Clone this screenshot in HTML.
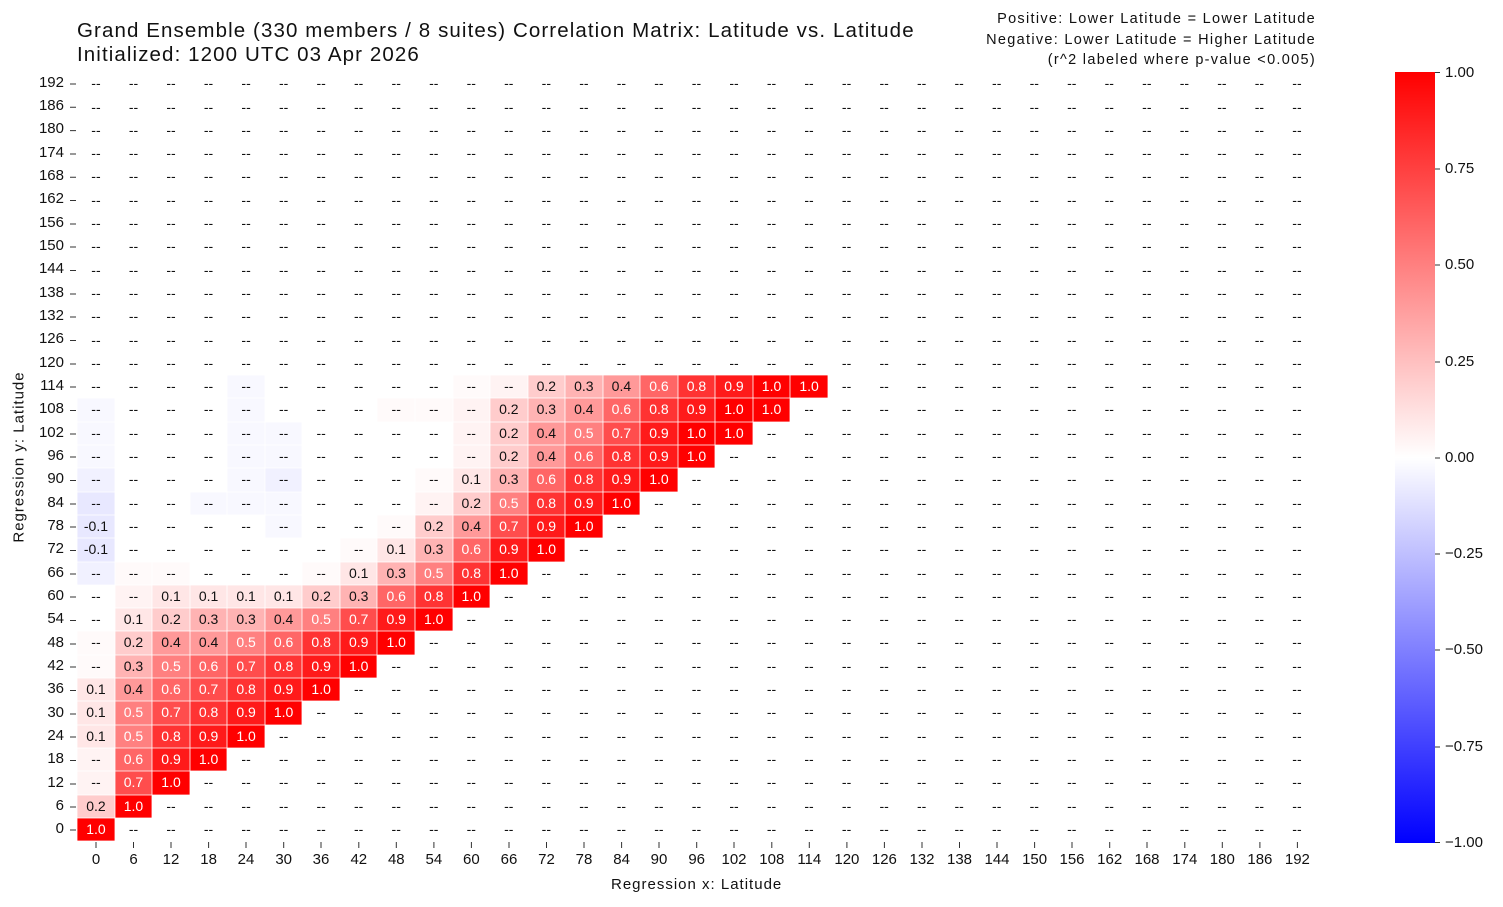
<!DOCTYPE html>
<html><head><meta charset="utf-8"><style>
body{margin:0;width:1503px;height:907px;background:#fff;font-family:"Liberation Sans",sans-serif;position:relative;overflow:hidden;color:#111}
.t{position:absolute;white-space:nowrap}
#g{position:absolute;left:77.2px;top:72.3px;width:1239px}
#g div{height:23.31px;white-space:nowrap;font-size:14px;line-height:23.31px}
#g i{font-style:normal;display:inline-block;width:37.545px;height:23.31px;text-align:center;vertical-align:top;box-shadow:inset 0 0 0 0.4px #fff}
.a1{background:#ffe6e6}.a2{background:#ffcccc}.a3{background:#ffb3b3}.a4{background:#ff9999}
.a5{background:#ff8080;color:#fff}.a6{background:#ff6666;color:#fff}.a7{background:#ff4d4d;color:#fff}.a8{background:#ff3333;color:#fff}.a9{background:#ff1a1a;color:#fff}.a10{background:#ff0000;color:#fff}
.p{background:#fff3f3}.q{background:#fffafa}.b{background:#f8f8ff}.bb{background:#f1f1ff}.n{background:#e8e8ff}
.yl{position:absolute;right:1439px;font-size:15px;text-align:right}
.xl{position:absolute;top:851px;font-size:15px;width:40px;margin-left:-20px;text-align:center}
</style></head><body>
<div class="t" style="left:77px;top:19px;font-size:20.5px;line-height:24px;letter-spacing:1.1px">Grand Ensemble (330 members / 8 suites) Correlation Matrix: Latitude vs. Latitude<br>Initialized: 1200 UTC 03 Apr 2026</div>
<div class="t" style="right:187px;top:9px;font-size:14.5px;line-height:20.5px;text-align:right;letter-spacing:1.3px">Positive: Lower Latitude = Lower Latitude<br>Negative: Lower Latitude = Higher Latitude<br>(r^2 labeled where p-value &lt;0.005)</div>
<div class="t" style="left:611px;top:876px;font-size:15px;letter-spacing:1px">Regression x: Latitude</div>
<div class="t" style="left:19px;top:457px;font-size:15px;letter-spacing:1px;transform:translate(-50%,-50%) rotate(-90deg)">Regression y: Latitude</div>

<svg style="position:absolute;left:0;top:0" width="1503" height="907">
<g stroke="#333" stroke-width="1">
<path d="M70 84H76M70 107.3H76M70 130.6H76M70 154H76M70 177.2H76M70 200.5H76M70 224H76M70 247H76M70 270.5H76M70 294H76M70 317H76M70 340.5H76M70 364H76M70 387H76M70 410.5H76M70 434H76M70 457H76M70 480.5H76M70 504H76M70 527H76M70 550.5H76M70 574H76M70 597H76M70 620.5H76M70 644H76M70 667H76M70 690.5H76M70 714H76M70 737H76M70 760.5H76M70 784H76M70 807H76M70 830H76"/>
</g>
<defs><linearGradient id="cb" x1="0" y1="0" x2="0" y2="1"><stop offset="0" stop-color="#f00"/><stop offset="0.5" stop-color="#fff"/><stop offset="1" stop-color="#00f"/></linearGradient></defs>
<rect x="1395" y="72" width="40" height="771" fill="url(#cb)"/>
<path d="M1435 72.5h5M1435 169h5M1435 265h5M1435 362h5M1435 458h5M1435 554h5M1435 650h5M1435 747h5M1435 842.5h5" stroke="#333"/>
<path stroke="#333" d="M96 842v6M133.5 842v6M171 842v6M208.6 842v6M246 842v6M283.7 842v6M321 842v6M358.8 842v6M396.3 842v6M433.9 842v6M471.4 842v6M509 842v6M546.5 842v6M584 842v6M621.6 842v6M659 842v6M696.7 842v6M734 842v6M771.8 842v6M809.3 842v6M846.9 842v6M884.4 842v6M922 842v6M959.5 842v6M997 842v6M1034.6 842v6M1072 842v6M1109.7 842v6M1147 842v6M1184.8 842v6M1222.3 842v6M1259.9 842v6M1297.4 842v6"/></svg>

<div class="t" style="left:1445px;top:63px;font-size:15px;line-height:20px">1.00</div>
<div class="t" style="left:1445px;top:159px;font-size:15px;line-height:20px">0.75</div>
<div class="t" style="left:1445px;top:255px;font-size:15px;line-height:20px">0.50</div>
<div class="t" style="left:1445px;top:352px;font-size:15px;line-height:20px">0.25</div>
<div class="t" style="left:1445px;top:448px;font-size:15px;line-height:20px">0.00</div>
<div class="t" style="left:1445px;top:544px;font-size:15px;line-height:20px">−0.25</div>
<div class="t" style="left:1445px;top:640px;font-size:15px;line-height:20px">−0.50</div>
<div class="t" style="left:1445px;top:737px;font-size:15px;line-height:20px">−0.75</div>
<div class="t" style="left:1445px;top:833px;font-size:15px;line-height:20px">−1.00</div>

<div class="yl" style="top:74px">192</div><div class="yl" style="top:97px">186</div><div class="yl" style="top:120px">180</div><div class="yl" style="top:144px">174</div><div class="yl" style="top:167px">168</div><div class="yl" style="top:190px">162</div><div class="yl" style="top:214px">156</div><div class="yl" style="top:237px">150</div><div class="yl" style="top:260px">144</div><div class="yl" style="top:284px">138</div><div class="yl" style="top:307px">132</div><div class="yl" style="top:330px">126</div><div class="yl" style="top:354px">120</div><div class="yl" style="top:377px">114</div><div class="yl" style="top:400px">108</div><div class="yl" style="top:424px">102</div><div class="yl" style="top:447px">96</div><div class="yl" style="top:470px">90</div><div class="yl" style="top:494px">84</div><div class="yl" style="top:517px">78</div><div class="yl" style="top:540px">72</div><div class="yl" style="top:564px">66</div><div class="yl" style="top:587px">60</div><div class="yl" style="top:610px">54</div><div class="yl" style="top:634px">48</div><div class="yl" style="top:657px">42</div><div class="yl" style="top:680px">36</div><div class="yl" style="top:704px">30</div><div class="yl" style="top:727px">24</div><div class="yl" style="top:750px">18</div><div class="yl" style="top:774px">12</div><div class="yl" style="top:797px">6</div><div class="yl" style="top:820px">0</div>

<div class="xl" style="left:96px">0</div><div class="xl" style="left:133.5px">6</div><div class="xl" style="left:171px">12</div><div class="xl" style="left:208.6px">18</div><div class="xl" style="left:246px">24</div><div class="xl" style="left:283.7px">30</div><div class="xl" style="left:321px">36</div><div class="xl" style="left:358.8px">42</div><div class="xl" style="left:396.3px">48</div><div class="xl" style="left:433.9px">54</div><div class="xl" style="left:471.4px">60</div><div class="xl" style="left:509px">66</div><div class="xl" style="left:546.5px">72</div><div class="xl" style="left:584px">78</div><div class="xl" style="left:621.6px">84</div><div class="xl" style="left:659px">90</div><div class="xl" style="left:696.7px">96</div><div class="xl" style="left:734px">102</div><div class="xl" style="left:771.8px">108</div><div class="xl" style="left:809.3px">114</div><div class="xl" style="left:846.9px">120</div><div class="xl" style="left:884.4px">126</div><div class="xl" style="left:922px">132</div><div class="xl" style="left:959.5px">138</div><div class="xl" style="left:997px">144</div><div class="xl" style="left:1034.6px">150</div><div class="xl" style="left:1072px">156</div><div class="xl" style="left:1109.7px">162</div><div class="xl" style="left:1147px">168</div><div class="xl" style="left:1184.8px">174</div><div class="xl" style="left:1222.3px">180</div><div class="xl" style="left:1259.9px">186</div><div class="xl" style="left:1297.4px">192</div>

<div id="g">
<div><i>--</i><i>--</i><i>--</i><i>--</i><i>--</i><i>--</i><i>--</i><i>--</i><i>--</i><i>--</i><i>--</i><i>--</i><i>--</i><i>--</i><i>--</i><i>--</i><i>--</i><i>--</i><i>--</i><i>--</i><i>--</i><i>--</i><i>--</i><i>--</i><i>--</i><i>--</i><i>--</i><i>--</i><i>--</i><i>--</i><i>--</i><i>--</i><i>--</i></div>
<div><i>--</i><i>--</i><i>--</i><i>--</i><i>--</i><i>--</i><i>--</i><i>--</i><i>--</i><i>--</i><i>--</i><i>--</i><i>--</i><i>--</i><i>--</i><i>--</i><i>--</i><i>--</i><i>--</i><i>--</i><i>--</i><i>--</i><i>--</i><i>--</i><i>--</i><i>--</i><i>--</i><i>--</i><i>--</i><i>--</i><i>--</i><i>--</i><i>--</i></div>
<div><i>--</i><i>--</i><i>--</i><i>--</i><i>--</i><i>--</i><i>--</i><i>--</i><i>--</i><i>--</i><i>--</i><i>--</i><i>--</i><i>--</i><i>--</i><i>--</i><i>--</i><i>--</i><i>--</i><i>--</i><i>--</i><i>--</i><i>--</i><i>--</i><i>--</i><i>--</i><i>--</i><i>--</i><i>--</i><i>--</i><i>--</i><i>--</i><i>--</i></div>
<div><i>--</i><i>--</i><i>--</i><i>--</i><i>--</i><i>--</i><i>--</i><i>--</i><i>--</i><i>--</i><i>--</i><i>--</i><i>--</i><i>--</i><i>--</i><i>--</i><i>--</i><i>--</i><i>--</i><i>--</i><i>--</i><i>--</i><i>--</i><i>--</i><i>--</i><i>--</i><i>--</i><i>--</i><i>--</i><i>--</i><i>--</i><i>--</i><i>--</i></div>
<div><i>--</i><i>--</i><i>--</i><i>--</i><i>--</i><i>--</i><i>--</i><i>--</i><i>--</i><i>--</i><i>--</i><i>--</i><i>--</i><i>--</i><i>--</i><i>--</i><i>--</i><i>--</i><i>--</i><i>--</i><i>--</i><i>--</i><i>--</i><i>--</i><i>--</i><i>--</i><i>--</i><i>--</i><i>--</i><i>--</i><i>--</i><i>--</i><i>--</i></div>
<div><i>--</i><i>--</i><i>--</i><i>--</i><i>--</i><i>--</i><i>--</i><i>--</i><i>--</i><i>--</i><i>--</i><i>--</i><i>--</i><i>--</i><i>--</i><i>--</i><i>--</i><i>--</i><i>--</i><i>--</i><i>--</i><i>--</i><i>--</i><i>--</i><i>--</i><i>--</i><i>--</i><i>--</i><i>--</i><i>--</i><i>--</i><i>--</i><i>--</i></div>
<div><i>--</i><i>--</i><i>--</i><i>--</i><i>--</i><i>--</i><i>--</i><i>--</i><i>--</i><i>--</i><i>--</i><i>--</i><i>--</i><i>--</i><i>--</i><i>--</i><i>--</i><i>--</i><i>--</i><i>--</i><i>--</i><i>--</i><i>--</i><i>--</i><i>--</i><i>--</i><i>--</i><i>--</i><i>--</i><i>--</i><i>--</i><i>--</i><i>--</i></div>
<div><i>--</i><i>--</i><i>--</i><i>--</i><i>--</i><i>--</i><i>--</i><i>--</i><i>--</i><i>--</i><i>--</i><i>--</i><i>--</i><i>--</i><i>--</i><i>--</i><i>--</i><i>--</i><i>--</i><i>--</i><i>--</i><i>--</i><i>--</i><i>--</i><i>--</i><i>--</i><i>--</i><i>--</i><i>--</i><i>--</i><i>--</i><i>--</i><i>--</i></div>
<div><i>--</i><i>--</i><i>--</i><i>--</i><i>--</i><i>--</i><i>--</i><i>--</i><i>--</i><i>--</i><i>--</i><i>--</i><i>--</i><i>--</i><i>--</i><i>--</i><i>--</i><i>--</i><i>--</i><i>--</i><i>--</i><i>--</i><i>--</i><i>--</i><i>--</i><i>--</i><i>--</i><i>--</i><i>--</i><i>--</i><i>--</i><i>--</i><i>--</i></div>
<div><i>--</i><i>--</i><i>--</i><i>--</i><i>--</i><i>--</i><i>--</i><i>--</i><i>--</i><i>--</i><i>--</i><i>--</i><i>--</i><i>--</i><i>--</i><i>--</i><i>--</i><i>--</i><i>--</i><i>--</i><i>--</i><i>--</i><i>--</i><i>--</i><i>--</i><i>--</i><i>--</i><i>--</i><i>--</i><i>--</i><i>--</i><i>--</i><i>--</i></div>
<div><i>--</i><i>--</i><i>--</i><i>--</i><i>--</i><i>--</i><i>--</i><i>--</i><i>--</i><i>--</i><i>--</i><i>--</i><i>--</i><i>--</i><i>--</i><i>--</i><i>--</i><i>--</i><i>--</i><i>--</i><i>--</i><i>--</i><i>--</i><i>--</i><i>--</i><i>--</i><i>--</i><i>--</i><i>--</i><i>--</i><i>--</i><i>--</i><i>--</i></div>
<div><i>--</i><i>--</i><i>--</i><i>--</i><i>--</i><i>--</i><i>--</i><i>--</i><i>--</i><i>--</i><i>--</i><i>--</i><i>--</i><i>--</i><i>--</i><i>--</i><i>--</i><i>--</i><i>--</i><i>--</i><i>--</i><i>--</i><i>--</i><i>--</i><i>--</i><i>--</i><i>--</i><i>--</i><i>--</i><i>--</i><i>--</i><i>--</i><i>--</i></div>
<div><i>--</i><i>--</i><i>--</i><i>--</i><i>--</i><i>--</i><i>--</i><i>--</i><i>--</i><i>--</i><i>--</i><i>--</i><i>--</i><i>--</i><i>--</i><i>--</i><i>--</i><i>--</i><i>--</i><i>--</i><i>--</i><i>--</i><i>--</i><i>--</i><i>--</i><i>--</i><i>--</i><i>--</i><i>--</i><i>--</i><i>--</i><i>--</i><i>--</i></div>
<!-- 114 -->
<div><i>--</i><i>--</i><i>--</i><i>--</i><i class="b">--</i><i>--</i><i>--</i><i>--</i><i>--</i><i>--</i><i class="q">--</i><i class="p">--</i><i class="a2">0.2</i><i class="a3">0.3</i><i class="a4">0.4</i><i class="a6">0.6</i><i class="a8">0.8</i><i class="a9">0.9</i><i class="a10">1.0</i><i class="a10">1.0</i><i>--</i><i>--</i><i>--</i><i>--</i><i>--</i><i>--</i><i>--</i><i>--</i><i>--</i><i>--</i><i>--</i><i>--</i><i>--</i></div>
<!-- 108 -->
<div><i class="b">--</i><i>--</i><i>--</i><i>--</i><i class="b">--</i><i>--</i><i>--</i><i>--</i><i class="q">--</i><i class="q">--</i><i class="p">--</i><i class="a2">0.2</i><i class="a3">0.3</i><i class="a4">0.4</i><i class="a6">0.6</i><i class="a8">0.8</i><i class="a9">0.9</i><i class="a10">1.0</i><i class="a10">1.0</i><i>--</i><i>--</i><i>--</i><i>--</i><i>--</i><i>--</i><i>--</i><i>--</i><i>--</i><i>--</i><i>--</i><i>--</i><i>--</i><i>--</i></div>
<!-- 102 -->
<div><i class="b">--</i><i>--</i><i>--</i><i>--</i><i class="b">--</i><i class="b">--</i><i>--</i><i>--</i><i>--</i><i>--</i><i class="p">--</i><i class="a2">0.2</i><i class="a4">0.4</i><i class="a5">0.5</i><i class="a7">0.7</i><i class="a9">0.9</i><i class="a10">1.0</i><i class="a10">1.0</i><i>--</i><i>--</i><i>--</i><i>--</i><i>--</i><i>--</i><i>--</i><i>--</i><i>--</i><i>--</i><i>--</i><i>--</i><i>--</i><i>--</i><i>--</i></div>
<!-- 96 -->
<div><i class="b">--</i><i>--</i><i>--</i><i>--</i><i class="b">--</i><i class="b">--</i><i>--</i><i>--</i><i>--</i><i>--</i><i class="p">--</i><i class="a2">0.2</i><i class="a4">0.4</i><i class="a6">0.6</i><i class="a8">0.8</i><i class="a9">0.9</i><i class="a10">1.0</i><i>--</i><i>--</i><i>--</i><i>--</i><i>--</i><i>--</i><i>--</i><i>--</i><i>--</i><i>--</i><i>--</i><i>--</i><i>--</i><i>--</i><i>--</i><i>--</i></div>
<!-- 90 -->
<div><i class="bb">--</i><i>--</i><i>--</i><i>--</i><i class="b">--</i><i class="bb">--</i><i>--</i><i>--</i><i>--</i><i class="q">--</i><i class="a1">0.1</i><i class="a3">0.3</i><i class="a6">0.6</i><i class="a8">0.8</i><i class="a9">0.9</i><i class="a10">1.0</i><i>--</i><i>--</i><i>--</i><i>--</i><i>--</i><i>--</i><i>--</i><i>--</i><i>--</i><i>--</i><i>--</i><i>--</i><i>--</i><i>--</i><i>--</i><i>--</i><i>--</i></div>
<!-- 84 -->
<div><i class="n">--</i><i>--</i><i>--</i><i class="b">--</i><i class="b">--</i><i class="b">--</i><i>--</i><i>--</i><i>--</i><i class="p">--</i><i class="a2">0.2</i><i class="a5">0.5</i><i class="a8">0.8</i><i class="a9">0.9</i><i class="a10">1.0</i><i>--</i><i>--</i><i>--</i><i>--</i><i>--</i><i>--</i><i>--</i><i>--</i><i>--</i><i>--</i><i>--</i><i>--</i><i>--</i><i>--</i><i>--</i><i>--</i><i>--</i><i>--</i></div>
<!-- 78 -->
<div><i class="n">-0.1</i><i>--</i><i>--</i><i>--</i><i>--</i><i class="b">--</i><i>--</i><i>--</i><i class="q">--</i><i class="a2">0.2</i><i class="a4">0.4</i><i class="a7">0.7</i><i class="a9">0.9</i><i class="a10">1.0</i><i>--</i><i>--</i><i>--</i><i>--</i><i>--</i><i>--</i><i>--</i><i>--</i><i>--</i><i>--</i><i>--</i><i>--</i><i>--</i><i>--</i><i>--</i><i>--</i><i>--</i><i>--</i><i>--</i></div>
<!-- 72 -->
<div><i class="n">-0.1</i><i>--</i><i>--</i><i>--</i><i>--</i><i>--</i><i>--</i><i class="q">--</i><i class="a1">0.1</i><i class="a3">0.3</i><i class="a6">0.6</i><i class="a9">0.9</i><i class="a10">1.0</i><i>--</i><i>--</i><i>--</i><i>--</i><i>--</i><i>--</i><i>--</i><i>--</i><i>--</i><i>--</i><i>--</i><i>--</i><i>--</i><i>--</i><i>--</i><i>--</i><i>--</i><i>--</i><i>--</i><i>--</i></div>
<!-- 66 -->
<div><i class="bb">--</i><i class="q">--</i><i class="q">--</i><i>--</i><i>--</i><i>--</i><i class="q">--</i><i class="a1">0.1</i><i class="a3">0.3</i><i class="a5">0.5</i><i class="a8">0.8</i><i class="a10">1.0</i><i>--</i><i>--</i><i>--</i><i>--</i><i>--</i><i>--</i><i>--</i><i>--</i><i>--</i><i>--</i><i>--</i><i>--</i><i>--</i><i>--</i><i>--</i><i>--</i><i>--</i><i>--</i><i>--</i><i>--</i><i>--</i></div>
<!-- 60 -->
<div><i>--</i><i class="p">--</i><i class="a1">0.1</i><i class="a1">0.1</i><i class="a1">0.1</i><i class="a1">0.1</i><i class="a2">0.2</i><i class="a3">0.3</i><i class="a6">0.6</i><i class="a8">0.8</i><i class="a10">1.0</i><i>--</i><i>--</i><i>--</i><i>--</i><i>--</i><i>--</i><i>--</i><i>--</i><i>--</i><i>--</i><i>--</i><i>--</i><i>--</i><i>--</i><i>--</i><i>--</i><i>--</i><i>--</i><i>--</i><i>--</i><i>--</i><i>--</i></div>
<!-- 54 -->
<div><i>--</i><i class="a1">0.1</i><i class="a2">0.2</i><i class="a3">0.3</i><i class="a3">0.3</i><i class="a4">0.4</i><i class="a5">0.5</i><i class="a7">0.7</i><i class="a9">0.9</i><i class="a10">1.0</i><i>--</i><i>--</i><i>--</i><i>--</i><i>--</i><i>--</i><i>--</i><i>--</i><i>--</i><i>--</i><i>--</i><i>--</i><i>--</i><i>--</i><i>--</i><i>--</i><i>--</i><i>--</i><i>--</i><i>--</i><i>--</i><i>--</i><i>--</i></div>
<!-- 48 -->
<div><i class="q">--</i><i class="a2">0.2</i><i class="a4">0.4</i><i class="a4">0.4</i><i class="a5">0.5</i><i class="a6">0.6</i><i class="a8">0.8</i><i class="a9">0.9</i><i class="a10">1.0</i><i>--</i><i>--</i><i>--</i><i>--</i><i>--</i><i>--</i><i>--</i><i>--</i><i>--</i><i>--</i><i>--</i><i>--</i><i>--</i><i>--</i><i>--</i><i>--</i><i>--</i><i>--</i><i>--</i><i>--</i><i>--</i><i>--</i><i>--</i><i>--</i></div>
<!-- 42 -->
<div><i class="q">--</i><i class="a3">0.3</i><i class="a5">0.5</i><i class="a6">0.6</i><i class="a7">0.7</i><i class="a8">0.8</i><i class="a9">0.9</i><i class="a10">1.0</i><i>--</i><i>--</i><i>--</i><i>--</i><i>--</i><i>--</i><i>--</i><i>--</i><i>--</i><i>--</i><i>--</i><i>--</i><i>--</i><i>--</i><i>--</i><i>--</i><i>--</i><i>--</i><i>--</i><i>--</i><i>--</i><i>--</i><i>--</i><i>--</i><i>--</i></div>
<!-- 36 -->
<div><i class="a1">0.1</i><i class="a4">0.4</i><i class="a6">0.6</i><i class="a7">0.7</i><i class="a8">0.8</i><i class="a9">0.9</i><i class="a10">1.0</i><i>--</i><i>--</i><i>--</i><i>--</i><i>--</i><i>--</i><i>--</i><i>--</i><i>--</i><i>--</i><i>--</i><i>--</i><i>--</i><i>--</i><i>--</i><i>--</i><i>--</i><i>--</i><i>--</i><i>--</i><i>--</i><i>--</i><i>--</i><i>--</i><i>--</i><i>--</i></div>
<!-- 30 -->
<div><i class="a1">0.1</i><i class="a5">0.5</i><i class="a7">0.7</i><i class="a8">0.8</i><i class="a9">0.9</i><i class="a10">1.0</i><i>--</i><i>--</i><i>--</i><i>--</i><i>--</i><i>--</i><i>--</i><i>--</i><i>--</i><i>--</i><i>--</i><i>--</i><i>--</i><i>--</i><i>--</i><i>--</i><i>--</i><i>--</i><i>--</i><i>--</i><i>--</i><i>--</i><i>--</i><i>--</i><i>--</i><i>--</i><i>--</i></div>
<!-- 24 -->
<div><i class="a1">0.1</i><i class="a5">0.5</i><i class="a8">0.8</i><i class="a9">0.9</i><i class="a10">1.0</i><i>--</i><i>--</i><i>--</i><i>--</i><i>--</i><i>--</i><i>--</i><i>--</i><i>--</i><i>--</i><i>--</i><i>--</i><i>--</i><i>--</i><i>--</i><i>--</i><i>--</i><i>--</i><i>--</i><i>--</i><i>--</i><i>--</i><i>--</i><i>--</i><i>--</i><i>--</i><i>--</i><i>--</i></div>
<!-- 18 -->
<div><i class="p">--</i><i class="a6">0.6</i><i class="a9">0.9</i><i class="a10">1.0</i><i>--</i><i>--</i><i>--</i><i>--</i><i>--</i><i>--</i><i>--</i><i>--</i><i>--</i><i>--</i><i>--</i><i>--</i><i>--</i><i>--</i><i>--</i><i>--</i><i>--</i><i>--</i><i>--</i><i>--</i><i>--</i><i>--</i><i>--</i><i>--</i><i>--</i><i>--</i><i>--</i><i>--</i><i>--</i></div>
<!-- 12 -->
<div><i class="p">--</i><i class="a7">0.7</i><i class="a10">1.0</i><i>--</i><i>--</i><i>--</i><i>--</i><i>--</i><i>--</i><i>--</i><i>--</i><i>--</i><i>--</i><i>--</i><i>--</i><i>--</i><i>--</i><i>--</i><i>--</i><i>--</i><i>--</i><i>--</i><i>--</i><i>--</i><i>--</i><i>--</i><i>--</i><i>--</i><i>--</i><i>--</i><i>--</i><i>--</i><i>--</i></div>
<!-- 6 -->
<div><i class="a2">0.2</i><i class="a10">1.0</i><i>--</i><i>--</i><i>--</i><i>--</i><i>--</i><i>--</i><i>--</i><i>--</i><i>--</i><i>--</i><i>--</i><i>--</i><i>--</i><i>--</i><i>--</i><i>--</i><i>--</i><i>--</i><i>--</i><i>--</i><i>--</i><i>--</i><i>--</i><i>--</i><i>--</i><i>--</i><i>--</i><i>--</i><i>--</i><i>--</i><i>--</i></div>
<!-- 0 -->
<div><i class="a10">1.0</i><i>--</i><i>--</i><i>--</i><i>--</i><i>--</i><i>--</i><i>--</i><i>--</i><i>--</i><i>--</i><i>--</i><i>--</i><i>--</i><i>--</i><i>--</i><i>--</i><i>--</i><i>--</i><i>--</i><i>--</i><i>--</i><i>--</i><i>--</i><i>--</i><i>--</i><i>--</i><i>--</i><i>--</i><i>--</i><i>--</i><i>--</i><i>--</i></div>
</div>
</body></html>
